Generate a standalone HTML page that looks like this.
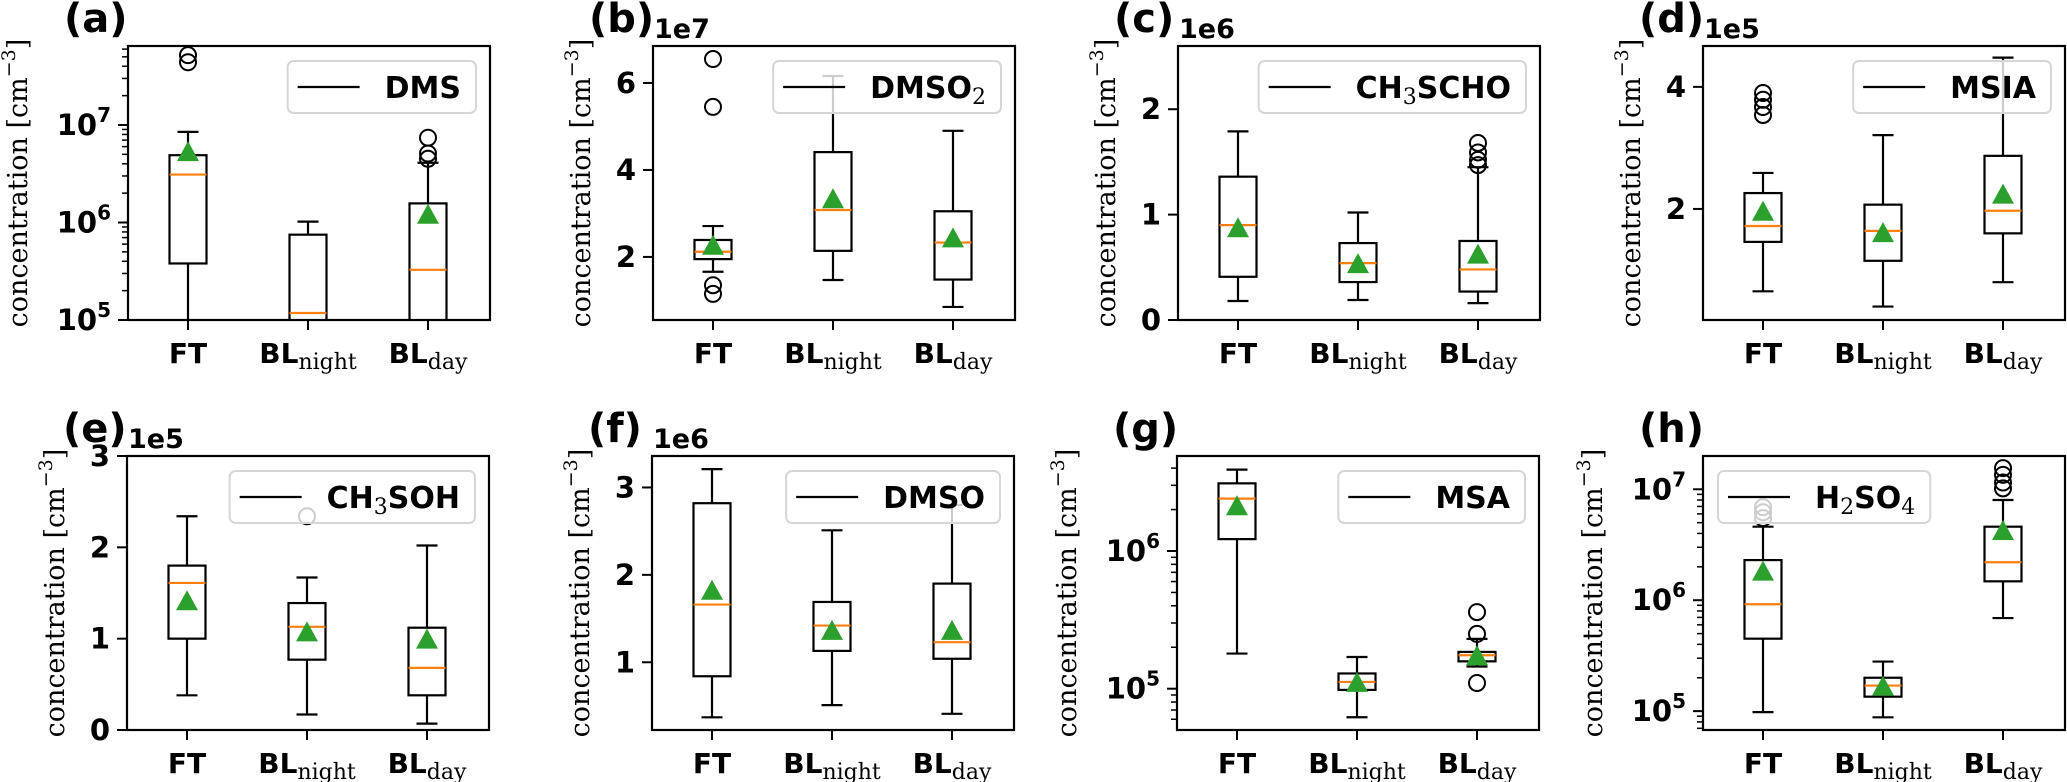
<!DOCTYPE html>
<html><head><meta charset="utf-8">
<style>
html,body{margin:0;padding:0;background:#fff;}
svg{display:block;}
text{font-family:"DejaVu Sans","Liberation Sans",sans-serif;}
.serif{font-family:"DejaVu Serif","Liberation Serif",serif;}
</style></head>
<body>
<svg id="fig" xmlns="http://www.w3.org/2000/svg" width="2067" height="782" viewBox="0 0 2067 782"></svg>
<script>
// ---- data (per panel a..h, per category FT, BL_night, BL_day) ----
const categories = ["FT", "BL_night", "BL_day"];
const panelIds = ["a","b","c","d","e","f","g","h"];
const species = ["DMS","DMSO2","CH3SCHO","MSIA","CH3SOH","DMSO","MSA","H2SO4"];
const whiskLo = [[5e4,5e4,5e4],[1.66,1.47,0.85],[0.18,0.19,0.16],[0.65,0.4,0.8],[0.38,0.17,0.07],[0.37,0.51,0.41],[1.8e5,6.2e4,1.45e5],[9.8e4,8.8e4,6.9e5]];
const q1 = [[3.8e5,9e4,5e4],[1.95,2.14,1.48],[0.41,0.36,0.27],[1.46,1.15,1.6],[1.0,0.77,0.38],[0.84,1.13,1.04],[1.22e6,9.8e4,1.58e5],[4.5e5,1.35e5,1.48e6]];
const medians = [[3.1e6,1.18e5,3.27e5],[2.12,3.08,2.33],[0.90,0.54,0.48],[1.72,1.64,1.97],[1.61,1.13,0.68],[1.66,1.42,1.23],[2.4e6,1.12e5,1.75e5],[9.2e5,1.7e5,2.2e6]];
const q3 = [[4.9e6,7.5e5,1.57e6],[2.39,4.41,3.05],[1.36,0.73,0.75],[2.26,2.07,2.87],[1.8,1.39,1.12],[2.82,1.69,1.9],[3.1e6,1.29e5,1.85e5],[2.3e6,2.0e5,4.6e6]];
const whiskHi = [[8.5e6,1.02e6,4.1e6],[2.71,6.16,4.9],[1.79,1.02,1.45],[2.59,3.21,4.48],[2.34,1.67,2.02],[3.21,2.51,2.8],[3.9e6,1.7e5,2.3e5],[4.6e6,2.8e5,8e6]];
const means = [[5.4e6,5e4,1.23e6],[2.28,3.35,2.45],[0.88,0.54,0.63],[1.97,1.62,2.25],[1.42,1.08,1.0],[1.83,1.37,1.37],[2.15e6,1.12e5,1.75e5],[1.85e6,1.7e5,4.3e6]];
const outliers = [[[5.2e7,4.4e7],[],[7.4e6,5.1e6,4.5e6]],[[6.55,5.45,1.35,1.15],[],[]],[[],[],[1.68,1.59,1.52,1.47]],[[3.9,3.79,3.67,3.54],[],[]],[[],[2.34],[]],[[],[],[]],[[],[],[3.6e5,2.5e5,1.1e5]],[[6.9e6,6.2e6,5.5e6],[],[1.55e7,1.35e7,1.15e7,1.02e7]]];
const yTicks = [[1e5,1e6,1e7],[2,4,6],[0,1,2],[2,4],[0,1,2,3],[1,2,3],[1e5,1e6],[1e5,1e6,1e7]];
const offsetLabels = ["","1e7","1e6","1e5","1e5","1e6","",""];

// ---- layout (axis config) ----
const lefts=[128,653,1178,1703,127,652,1177,1703];
const tops=[46,46,46,46,456,456,456,456];
const W=362,H=274;
const isLog=[true,false,false,false,false,false,true,true];
const yLims=[[1e5,Math.pow(10,7.81)],[0.55,6.85],[0,2.6],[0.18,4.67],[0,3],[0.225,3.36],[Math.pow(10,4.70),Math.pow(10,6.69)],[Math.pow(10,4.83),Math.pow(10,7.30)]];
const legendLeft=[false,false,false,false,false,false,false,true];

const NS="http://www.w3.org/2000/svg";
const svg=document.getElementById('fig');
function mk(tag,attrs,parent){const e=document.createElementNS(NS,tag);for(const k in attrs)e.setAttribute(k,attrs[k]);(parent||svg).appendChild(e);return e;}

const defs=mk('defs',{});

function speciesTspans(t,name){
  const m={"DMS":[["DMS",0]],"DMSO2":[["DMSO",0],["2",1]],"CH3SCHO":[["CH",0],["3",1],["SCHO",0]],"MSIA":[["MSIA",0]],"CH3SOH":[["CH",0],["3",1],["SOH",0]],"DMSO":[["DMSO",0]],"MSA":[["MSA",0]],"H2SO4":[["H",0],["2",1],["SO",0],["4",1]]}[name];
  let shifted=false;
  m.forEach(([s,sub])=>{
    const ts=mk('tspan',{},t);
    ts.textContent=s;
    if(sub){ts.setAttribute('class','serif');ts.setAttribute('font-weight','normal');ts.setAttribute('font-size','22');ts.setAttribute('dy','6');shifted=true;}
    else if(shifted){ts.setAttribute('dy','-6');shifted=false;}
  });
}

for(let p=0;p<8;p++){
  const L=lefts[p],T=tops[p],R=L+W,B=T+H;
  const g=mk('g',{});
  
  
  const lg=isLog[p];
  const f=v=>lg?Math.log10(v):v;
  const y0=f(yLims[p][0]),y1=f(yLims[p][1]);
  const yS=v=>B-(f(v)-y0)/(y1-y0)*H;
  const xS=i=>L+60+120*i;
  // clip
  const cp=mk('clipPath',{id:'clip'+p},defs);
  mk('rect',{x:L,y:T,width:W,height:H},cp);
  // minor log ticks
  const yt=mk('g',{},g);
  
  
  if(lg){
    for(let d=Math.floor(y0);d<=Math.ceil(y1);d++){
      for(let k=2;k<=9;k++){
        const v=k*Math.pow(10,d);
        if(Math.log10(v)<y0||Math.log10(v)>y1)continue;
        const yy=yS(v);
        mk('line',{x1:L-6,x2:L,y1:yy,y2:yy,stroke:'#000','stroke-width':1.5},yt);
      }
    }
  }
  yTicks[p].forEach(v=>{
    const yy=yS(v);
    mk('line',{x1:L-10,x2:L,y1:yy,y2:yy,stroke:'#000','stroke-width':2},yt);
    const t=mk('text',{x:L-17,y:yy+10,'text-anchor':'end','font-size':29,'font-weight':'bold'},yt);
    
    
    if(lg){
      const e=Math.round(Math.log10(v));
      const a=mk('tspan',{},t);a.textContent='10';
      const b=mk('tspan',{'font-size':20,dy:-13},t);b.textContent=String(e);
    } else t.textContent=String(v);
  });
  // x ticks
  categories.forEach((c,i)=>{
    const xx=xS(i);
    mk('line',{x1:xx,x2:xx,y1:B,y2:B+10,stroke:'#000','stroke-width':2},g);
    const t=mk('text',{x:xx,y:B+43,'text-anchor':'middle','font-size':28,'font-weight':'bold'},g);
    
    
    if(c==='FT'){t.textContent='FT';}
    else{
      const a=mk('tspan',{},t);a.textContent='BL';
      const b=mk('tspan',{'class':'serif','font-weight':'normal','font-size':22,dy:6},t);b.textContent=c==='BL_night'?'night':'day';
    }
  });
  // boxes
  const bg=mk('g',{'clip-path':'url(#clip'+p+')'},g);
  categories.forEach((c,i)=>{
    const xx=xS(i);
    const box=mk('g',{},bg);
    
    
    const st={stroke:'#000','stroke-width':2.2,fill:'none'};
    const ylo=yS(whiskLo[p][i]),yq1=yS(q1[p][i]),ymed=yS(medians[p][i]),yq3=yS(q3[p][i]),yhi=yS(whiskHi[p][i]);
    mk('line',Object.assign({x1:xx,x2:xx,y1:yq1,y2:ylo},st),box);
    mk('line',Object.assign({x1:xx,x2:xx,y1:yq3,y2:yhi},st),box);
    mk('line',Object.assign({x1:xx-10.5,x2:xx+10.5,y1:ylo,y2:ylo},st),box);
    mk('line',Object.assign({x1:xx-10.5,x2:xx+10.5,y1:yhi,y2:yhi},st),box);
    mk('rect',Object.assign({x:xx-18.5,y:yq3,width:37,height:Math.max(0,yq1-yq3)},st),box);
    mk('line',{x1:xx-18.5,x2:xx+18.5,y1:ymed,y2:ymed,stroke:'#ff7f0e','stroke-width':2.2},box);
    outliers[p][i].forEach(v=>{
      mk('circle',{cx:xx,cy:yS(v),r:8,fill:'none',stroke:'#000','stroke-width':2},box);
    });
    const ym=yS(means[p][i]);
    mk('path',{d:`M${xx},${ym-10} L${xx+11},${ym+10} L${xx-11},${ym+10} Z`,fill:'#2ca02c'},box);
  });
  // frame
  const fr=mk('rect',{x:L,y:T,width:W,height:H,fill:'none',stroke:'#000','stroke-width':2.2},g);
  
  
  // legend
  const lgd=mk('g',{},g);
  
  
  const lr=mk('rect',{y:T+15,height:52,rx:6,fill:'rgba(255,255,255,0.8)',stroke:'#d6d6d6','stroke-width':2},lgd);
  const ll=mk('line',{y1:T+41,y2:T+41,stroke:'#000','stroke-width':2.2},lgd);
  const lt=mk('text',{y:T+52,'font-size':30,'font-weight':'bold'},lgd);
  speciesTspans(lt,species[p]);
  const tw=lt.getComputedTextLength();
  const lw=tw+112;
  const lx=legendLeft[p]?L+15:R-14-lw;
  lr.setAttribute('x',lx);lr.setAttribute('width',lw);
  ll.setAttribute('x1',lx+10);ll.setAttribute('x2',lx+72);
  lt.setAttribute('x',lx+97);
  // offset text
  if(offsetLabels[p]){
    const o=mk('text',{x:L+1,y:T-8,'font-size':27,'font-weight':'bold'},g);
    o.textContent=offsetLabels[p];
    
    
  }
  // panel label
  const pl=mk('text',{x:L-64,y:T-14,'font-size':40,'font-weight':'bold'},g);
  pl.textContent='('+panelIds[p]+')';
  
  
  // y label
  const yoff=lg?110:72;
  const cx=L-yoff,cy=T+H/2;
  const yl=mk('text',{x:cx,y:cy,'text-anchor':'middle','font-size':27,'class':'serif',transform:`rotate(-90 ${cx} ${cy})`,dy:9},g);
  
  
  const a=mk('tspan',{},yl);a.textContent='concentration [cm';
  const b=mk('tspan',{'font-size':19,dy:-12},yl);b.textContent='−3';
  const c=mk('tspan',{dy:12},yl);c.textContent=']';
}
</script>
</body></html>
